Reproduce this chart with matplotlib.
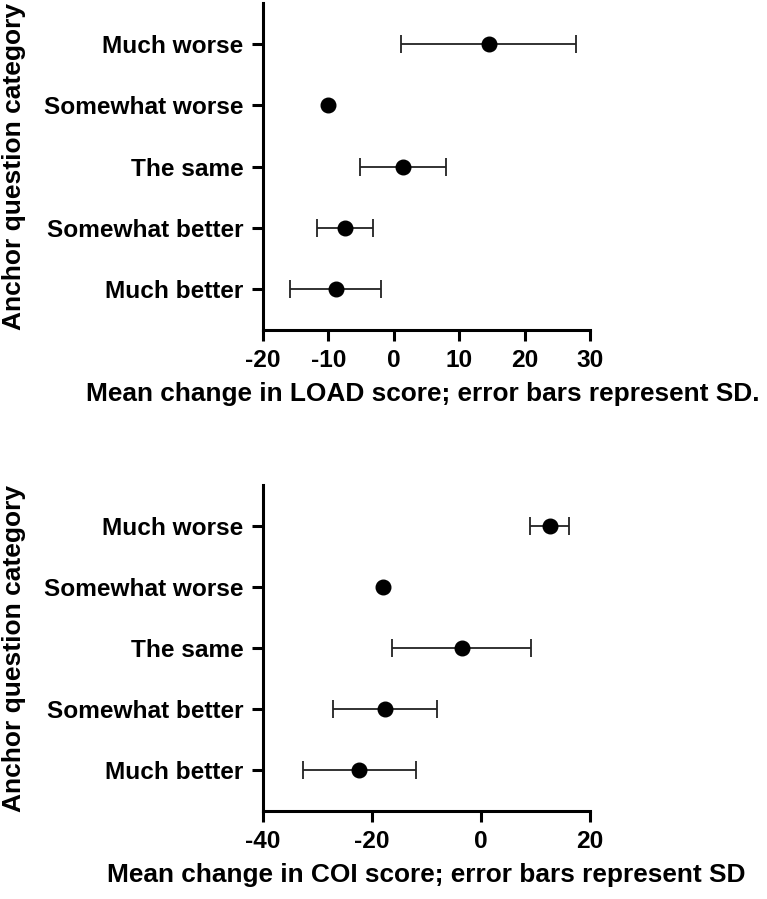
import matplotlib
matplotlib.use("Agg")
import matplotlib.pyplot as plt

plt.rcParams['font.family'] = ['Liberation Sans', 'DejaVu Sans']
plt.rcParams['font.weight'] = 'bold'

categories = ["Much better", "Somewhat better", "The same", "Somewhat worse", "Much worse"]

load_mean = [-8.9, -7.5, 1.4, -10.0, 14.5]
load_sd = [7.0, 4.3, 6.6, 0.0, 13.4]

coi_mean = [-22.3, -17.6, -3.55, -17.9, 12.6]
coi_sd = [10.45, 9.6, 12.75, 0.0, 3.55]

load_ticks = [-20, -10, 0, 10, 20, 30]
coi_ticks = [-40, -20, 0, 20]

load_xlabel = "Mean change in LOAD score; error bars represent SD."
coi_xlabel = "Mean change in COI score; error bars represent SD"
ylabel = "Anchor question category"

fig = plt.figure(figsize=(7.67, 8.99), dpi=100)
W, H = 767, 899
ax1 = fig.add_axes([263 / W, 1 - 330 / H, (590 - 263) / W, (330 - 3) / H])
ax2 = fig.add_axes([263 / W, 1 - 811 / H, (590 - 263) / W, (811 - 485) / H])

fs_tick = 17.6
fs_xl = 18.9
fs_yl = 19
for ax, means, sds, ticks, xl, xc in [(ax1, load_mean, load_sd, load_ticks, load_xlabel, 0.49),
                                       (ax2, coi_mean, coi_sd, coi_ticks, coi_xlabel, 0.5)]:
    ypos = list(range(1, len(categories) + 1))
    eb_x = [m for m, s in zip(means, sds) if s > 0]
    eb_y = [y for y, s in zip(ypos, sds) if s > 0]
    eb_s = [s for s in sds if s > 0]
    ax.errorbar(eb_x, eb_y, xerr=eb_s, fmt='none', ecolor='#222222',
                elinewidth=1.3, capsize=6.5, capthick=1.3, zorder=2)
    ax.plot(means, ypos, 'o', color='black', markersize=10.5, zorder=3)
    ax.set_xlim(ticks[0], ticks[-1])
    ax.set_ylim(0.33, len(categories) + 0.67)
    ax.set_xticks(ticks)
    ax.set_xticklabels([str(t) for t in ticks])
    ax.set_yticks(ypos)
    ax.set_yticklabels(categories)
    for s in ['top', 'right']:
        ax.spines[s].set_visible(False)
    for s in ['left', 'bottom']:
        ax.spines[s].set_linewidth(2.2)
    ax.tick_params(axis='both', width=2.2, length=8, labelsize=fs_tick, pad=6)
    for lab in ax.get_xticklabels() + ax.get_yticklabels():
        lab.set_fontweight('bold')
    ax.set_xlabel(xl, fontsize=fs_xl, fontweight='bold')
    ax.set_ylabel(ylabel, fontsize=fs_yl, fontweight='bold')
    ax.yaxis.set_label_coords(-0.725, 0.5)
    ax.xaxis.set_label_coords(xc, -0.16)

fig.savefig("out.png", dpi=100)
